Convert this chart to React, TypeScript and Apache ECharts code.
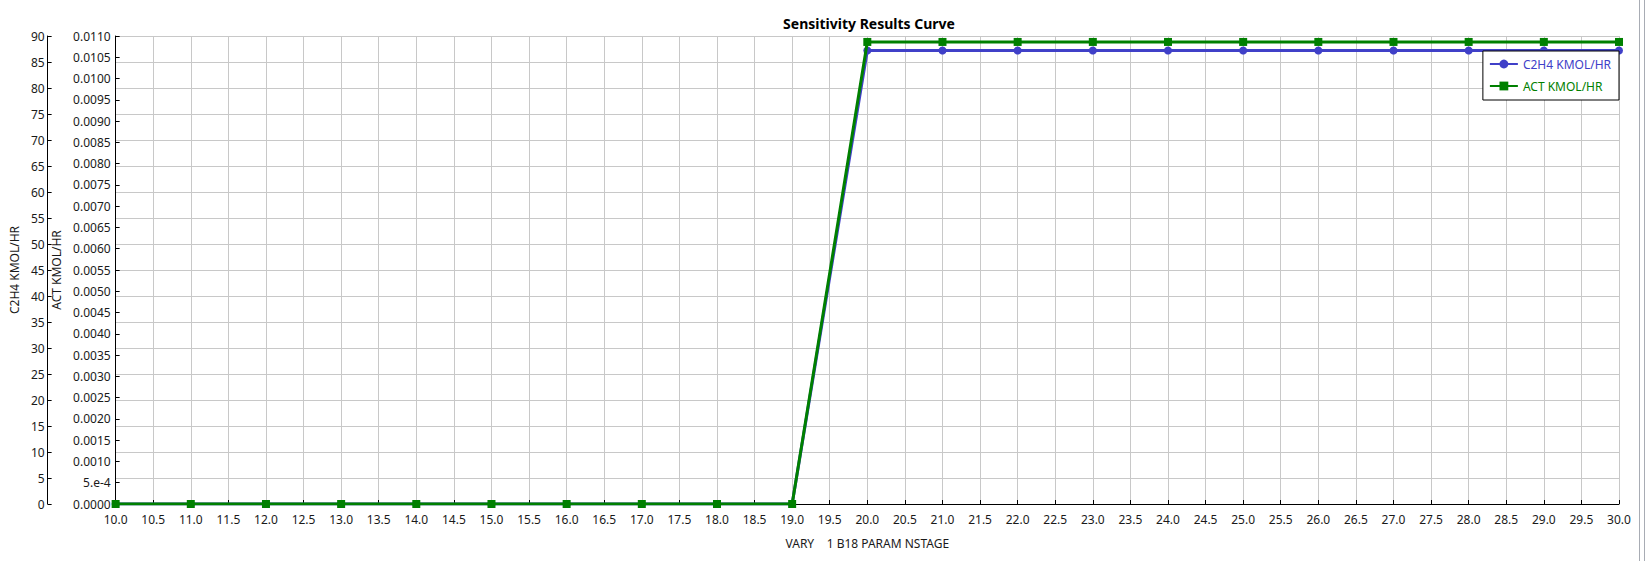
import React, { useEffect, useRef } from "react";
import * as echarts from "echarts";

const xValues = [10, 11, 12, 13, 14, 15, 16, 17, 18, 19, 20, 21, 22, 23, 24, 25, 26, 27, 28, 29, 30];
const c2h4Values = [0, 0, 0, 0, 0, 0, 0, 0, 0, 0, 87.2, 87.2, 87.2, 87.2, 87.2, 87.2, 87.2, 87.2, 87.2, 87.2, 87.2];
const actValues = [0, 0, 0, 0, 0, 0, 0, 0, 0, 0, 0.01086, 0.01086, 0.01086, 0.01086, 0.01086, 0.01086, 0.01086, 0.01086, 0.01086, 0.01086, 0.01086];

const seriesNames = ["C2H4 KMOL/HR", "ACT KMOL/HR"];
const titleText = "Sensitivity Results Curve";
const xAxisName = "VARY    1 B18 PARAM NSTAGE";

const FONT = "'Noto Sans', 'Open Sans', sans-serif";
const BLUE = "#4040c8";
const GREEN = "#008000";

export default function App() {
  const ref = useRef<HTMLDivElement>(null);
  useEffect(() => {
    document.body.style.margin = "0";
    if (!ref.current) return;
    const chart = echarts.init(ref.current, undefined, { renderer: "svg" });
    const labelStyle = { color: "#1a1a1a", fontSize: 12, fontFamily: FONT };
    chart.setOption({
      animation: false,
      backgroundColor: "#ffffff",
      textStyle: { fontFamily: FONT },
      title: {
        text: titleText,
        left: 864,
        textAlign: "center",
        top: 11,
        textStyle: { fontSize: 14, fontWeight: "bold", color: "#000", fontFamily: FONT },
      },
      legend: {
        orient: "vertical",
        right: 31,
        top: 51,
        backgroundColor: "#ffffff",
        borderColor: "#000000",
        borderWidth: 1,
        borderRadius: 0,
        padding: [7, 8, 8, 6],
        itemGap: 10,
        itemWidth: 28,
        itemHeight: 11,
        textStyle: { fontSize: 12, fontFamily: FONT },
        data: [
          { name: seriesNames[0], textStyle: { color: BLUE } },
          { name: seriesNames[1], textStyle: { color: GREEN } },
        ],
      },
      grid: { left: 109, right: 31, top: 36, bottom: 57, containLabel: false },
      xAxis: {
        type: "value",
        min: 10,
        max: 30,
        interval: 0.5,
        name: xAxisName,
        nameLocation: "middle",
        nameGap: 33,
        nameTextStyle: { ...labelStyle },
        axisLine: { onZero: false, lineStyle: { color: "#000", width: 1 } },
        axisTick: { inside: true, length: 4, lineStyle: { color: "#000" } },
        axisLabel: { ...labelStyle, margin: 9, formatter: (v: number) => v.toFixed(1) },
        splitLine: { show: true, lineStyle: { color: "#c8c8c8", width: 1 } },
      },
      yAxis: [
        {
          type: "value",
          min: 0,
          max: 90,
          interval: 5,
          position: "left",
          offset: 68,
          name: seriesNames[0],
          nameLocation: "middle",
          nameRotate: 90,
          nameGap: 27,
          nameTextStyle: { ...labelStyle },
          axisLine: { show: true, lineStyle: { color: "#000", width: 1 } },
          axisTick: { show: true, inside: true, length: 4, lineStyle: { color: "#000" } },
          axisLabel: { ...labelStyle, margin: 3 },
          splitLine: { show: true, lineStyle: { color: "#c8c8c8", width: 1 } },
        },
        {
          type: "value",
          min: 0,
          max: 0.011,
          interval: 0.0005,
          position: "left",
          offset: 0,
          name: seriesNames[1],
          nameLocation: "middle",
          nameRotate: 90,
          nameGap: 50,
          nameTextStyle: { ...labelStyle },
          axisLine: { show: true, lineStyle: { color: "#000", width: 1 } },
          axisTick: { show: true, inside: true, length: 4, lineStyle: { color: "#000" } },
          axisLabel: {
            ...labelStyle,
            margin: 5,
            formatter: (v: number) => (Math.abs(v - 0.0005) < 1e-9 ? "5.e-4" : v.toFixed(4)),
          },
          splitLine: { show: false },
        },
      ],
      series: [
        {
          name: seriesNames[0],
          type: "line",
          yAxisIndex: 0,
          data: xValues.map((x, i) => [x, c2h4Values[i]]),
          symbol: "circle",
          symbolSize: 8,
          showAllSymbol: true,
          lineStyle: { color: BLUE, width: 3 },
          itemStyle: { color: BLUE },
          z: 2,
        },
        {
          name: seriesNames[1],
          type: "line",
          yAxisIndex: 1,
          data: xValues.map((x, i) => [x, actValues[i]]),
          symbol: "rect",
          symbolSize: 8,
          showAllSymbol: true,
          lineStyle: { color: GREEN, width: 3 },
          itemStyle: { color: GREEN },
          z: 3,
        },
      ],
      graphic: [
        { type: "rect", left: 1639, top: 0, shape: { width: 1, height: 561 }, style: { fill: "#a8acb4" } },
        { type: "rect", left: 1644, top: 0, shape: { width: 1, height: 561 }, style: { fill: "#a8acb4" } },
      ],
    });
    return () => chart.dispose();
  }, []);
  return <div ref={ref} style={{ position: "absolute", left: 0, top: 0, width: 1650, height: 561 }} />;
}
